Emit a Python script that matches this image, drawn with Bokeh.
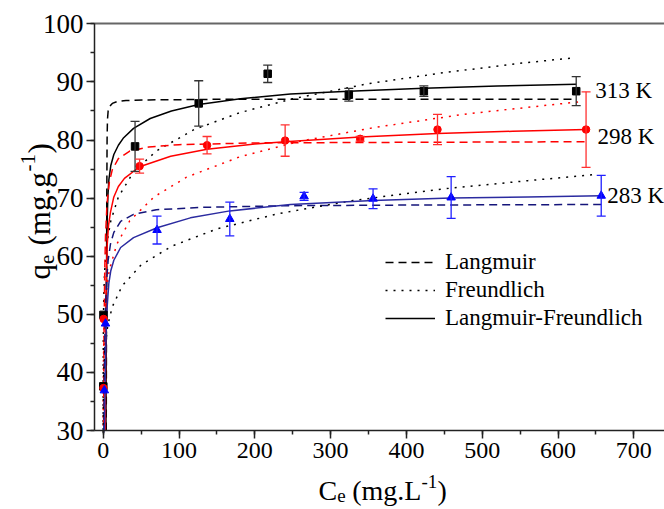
import numpy as np
from bokeh.plotting import figure
from bokeh.models import (Range1d, SingleIntervalTicker, FixedTicker, LinearAxis, Label, Legend,
                          LegendItem, Whisker, TeeHead, ColumnDataSource)
from bokeh.embed import file_html
from bokeh.resources import INLINE

# ---- measured equilibrium data (Ce in mg/L, qe in mg/g, error = +/- half range) ----
ce_313 = [0.1, 0.3, 42, 126, 217, 324, 423, 624]
qe_313 = [37.6, 49.9, 78.9, 86.3, 91.4, 87.8, 88.4, 88.4]
err_313 = [0, 0, 4.3, 3.9, 1.5, 1.1, 0.9, 2.5]

ce_298 = [0.3, 0.6, 48, 137, 240, 339, 441, 637]
qe_298 = [37.3, 49.2, 75.5, 79.1, 79.9, 80.2, 81.8, 81.8]
err_298 = [0, 0, 1.2, 1.5, 2.7, 0.4, 2.6, 6.5]

ce_283 = [1.5, 3.0, 71, 167, 265, 356, 459, 657]
qe_283 = [36.9, 48.4, 64.5, 66.4, 70.3, 69.9, 70.1, 70.4]
err_283 = [0, 0, 2.4, 2.9, 0.7, 1.7, 3.6, 3.5]

# ---- fitted isotherm curves, sampled ----
# 313 K
lang_313_c = [4.0, 4.3, 4.7, 5.1, 5.6, 6.5, 8.5, 12, 18, 30, 60, 150, 624]
lang_313_q = [30.0, 50.0, 70.0, 80.0, 83.5, 85.0, 85.8, 86.3, 86.6, 86.8, 86.9, 87.0, 87.0]
freu_313_c = [0.001, 0.005, 0.02, 0.1, 0.5, 1, 2, 5, 10, 20, 40, 70, 120, 180, 250, 350, 450, 550, 617]
freu_313_q = [30.1, 34.5, 38.8, 44.6, 51.2, 54.3, 57.6, 62.3, 66.1, 70.2, 74.5, 78.1, 81.8, 84.7, 87.1, 89.7, 91.6, 93.2, 94.1]
lf_313_c = [3.6, 4.0, 4.5, 5.2, 6.2, 7.5, 10, 14, 20, 27, 40, 62, 90, 126, 181, 247, 324, 423, 520, 624]
lf_313_q = [30.0, 45.0, 58.0, 66.0, 70.5, 73.2, 75.6, 77.5, 79.1, 80.4, 82.0, 83.7, 85.0, 86.1, 87.1, 87.9, 88.4, 88.9, 89.3, 89.6]

# 298 K
lang_298_c = [0.5, 0.8, 1.2, 2, 3, 5, 8, 12, 20, 35, 60, 100, 200, 400, 637]
lang_298_q = [31.2, 40.4, 48.3, 57.4, 63.4, 69.0, 72.7, 74.9, 76.8, 78.1, 78.8, 79.2, 79.5, 79.6, 79.7]
freu_298_c = [0.01, 0.05, 0.2, 1, 3, 8, 18, 35, 67, 110, 180, 260, 360, 480, 630]
freu_298_q = [30.8, 35.8, 40.8, 47.4, 52.5, 57.6, 62.1, 66.1, 70.2, 73.6, 77.1, 79.8, 82.2, 84.5, 86.6]
lf_298_c = [2.8, 3.2, 3.8, 4.5, 5.3, 7, 9.6, 14, 20, 28, 48, 89, 137, 200, 240, 339, 441, 540, 637]
lf_298_q = [30.0, 45.0, 53.0, 58.5, 62.0, 65.3, 67.6, 70.2, 72.0, 73.4, 75.4, 77.2, 78.4, 79.3, 79.7, 80.5, 81.1, 81.5, 81.8]

# 283 K
lang_283_c = [0.8, 1.0, 1.5, 2.2, 3.2, 4.5, 6.5, 9.6, 14, 23, 40, 70, 130, 250, 400, 657]
lang_283_q = [29.6, 33.4, 40.4, 46.5, 51.8, 55.8, 59.3, 62.1, 64.1, 66.0, 67.2, 68.0, 68.4, 68.7, 68.8, 68.9]
freu_283_c = [0.03, 0.1, 0.4, 1, 2.5, 6, 12, 25, 50, 90, 150, 230, 330, 450, 560, 645]
freu_283_q = [29.6, 33.0, 37.5, 40.8, 44.4, 48.1, 51.3, 54.9, 58.5, 61.7, 64.7, 67.3, 69.6, 71.6, 73.0, 74.0]
lf_283_c = [1.7, 2.5, 3.2, 4, 5.3, 7.4, 10, 14, 23, 40, 71, 115, 167, 247, 356, 459, 560, 657]
lf_283_q = [30.0, 38.0, 43.5, 47.2, 51.5, 55.3, 57.5, 59.3, 61.5, 63.2, 64.9, 66.6, 67.8, 68.9, 69.6, 70.0, 70.2, 70.4]

temp_labels = ["313 K", "298 K", "283 K"]
legend_labels = ["Langmuir", "Freundlich", "Langmuir-Freundlich"]

FONT = "Liberation Serif"
DASH = "8 5"
DOT = "2 6"

# axis limits of the plotted box
X0, X1 = -11.5, 740.5
Y0, Y1 = 30, 100

# The frame spans the whole canvas; the axes sit at fixed positions inside it
# so that the axis titles (built from several runs of text) are not clipped.
W, H = 664, 509
PX_X = 0.758          # pixels per mg/L
PX_Y = 5.81           # pixels per mg/g
LEFT, TOP = 94, 23.3  # canvas position of the box's left and top edges
p = figure(width=W, height=H, output_backend="svg", toolbar_location=None,
           x_range=Range1d(X0 - LEFT / PX_X, X0 + (W - LEFT) / PX_X),
           y_range=Range1d(Y1 - (H - TOP) / PX_Y, Y1 + TOP / PX_Y),
           min_border=0, x_axis_type=None, y_axis_type=None)
p.outline_line_color = None
p.xgrid.visible = False
p.ygrid.visible = False
p.background_fill_color = "white"
p.border_fill_color = "white"


def style_axis(ax, size):
    ax.axis_line_color = "#222222"
    ax.axis_line_width = 1.5
    ax.major_tick_line_color = "#222222"
    ax.minor_tick_line_color = "#222222"
    ax.major_tick_line_width = 1.5
    ax.minor_tick_line_width = 1.5
    ax.major_tick_in = 0
    ax.major_tick_out = 8
    ax.minor_tick_in = 0
    ax.minor_tick_out = 4
    ax.major_label_text_font = FONT
    ax.major_label_text_font_size = size
    ax.major_label_text_color = "black"
    ax.major_label_standoff = 4


xaxis = LinearAxis(ticker=SingleIntervalTicker(interval=100, num_minor_ticks=2),
                   fixed_location=Y0, bounds=(X0, X1))
style_axis(xaxis, "24px")
p.add_layout(xaxis, "below")
yaxis = LinearAxis(ticker=SingleIntervalTicker(interval=10, num_minor_ticks=2),
                   fixed_location=X0, bounds=(Y0, Y1))
style_axis(yaxis, "27px")
yaxis.major_label_standoff = 3
p.add_layout(yaxis, "left")

# plain top border line (no ticks)
top = LinearAxis(ticker=FixedTicker(ticks=[], minor_ticks=[]),
                 fixed_location=Y1, bounds=(X0, X1))
top.axis_line_color = "#666666"
top.axis_line_width = 2
top.major_tick_line_color = None
top.minor_tick_line_color = None
p.add_layout(top, "above")

# ---- model curves ----
NAVY_D = "#15157a"
NAVY_S = "#2b2ba0"
r_l313 = p.line(lang_313_c, lang_313_q, line_color="black", line_width=1.5, line_dash=DASH)
r_f313 = p.line(freu_313_c, freu_313_q, line_color="black", line_width=1.5, line_dash=DOT)
r_s313 = p.line(lf_313_c, lf_313_q, line_color="black", line_width=1.5)

p.line(lang_298_c, lang_298_q, line_color="#ff0000", line_width=1.5, line_dash=DASH)
p.line(freu_298_c, freu_298_q, line_color="#ff0000", line_width=1.5, line_dash=DOT)
p.line(lf_298_c, lf_298_q, line_color="#ff0000", line_width=1.5)

p.line(lang_283_c, lang_283_q, line_color=NAVY_D, line_width=1.5, line_dash=DASH)
p.line(freu_283_c, freu_283_q, line_color="black", line_width=1.5, line_dash=DOT)
p.line(lf_283_c, lf_283_q, line_color=NAVY_S, line_width=1.5)


# ---- error bars and measured points ----
def add_errors(ce, qe, err, color):
    keep = [i for i, e in enumerate(err) if e > 0]
    src = ColumnDataSource(dict(
        x=[ce[i] for i in keep],
        upper=[qe[i] + err[i] for i in keep],
        lower=[qe[i] - err[i] for i in keep]))
    w = Whisker(base="x", upper="upper", lower="lower", source=src,
                line_color=color, line_width=1.3, level="glyph",
                upper_head=TeeHead(size=9, line_color=color, line_width=1.3),
                lower_head=TeeHead(size=9, line_color=color, line_width=1.3))
    p.add_layout(w)


add_errors(ce_313, qe_313, err_313, "#333333")
add_errors(ce_298, qe_298, err_298, "#ff3030")
add_errors(ce_283, qe_283, err_283, "#2020ff")

p.scatter(ce_313, qe_313, marker="square", size=7.5, color="black")
p.scatter(ce_298, qe_298, marker="circle", size=7.5, color="#ff0000")
p.scatter(ce_283, qe_283, marker="triangle", size=8.5, color="#0000ff")

# ---- temperature tags ----
for txt, xx, yy in zip(temp_labels, [649, 652, 665], [88.5, 80.6, 70.4]):
    p.add_layout(Label(x=xx, y=yy, text=txt, text_font=FONT, text_font_size="23px",
                       text_baseline="middle", text_color="black"))

# ---- legend ----
legend = Legend(items=[LegendItem(label=legend_labels[0], renderers=[r_l313]),
                       LegendItem(label=legend_labels[1], renderers=[r_f313]),
                       LegendItem(label=legend_labels[2], renderers=[r_s313])],
                location=(385, H - 332), orientation="vertical",
                glyph_width=50, glyph_height=28, label_height=28, spacing=0,
                padding=0, margin=0, label_standoff=10,
                label_text_font=FONT, label_text_font_size="23px",
                label_text_color="black",
                border_line_color=None, background_fill_alpha=0)
p.add_layout(legend, "center")


# ---- axis titles built from runs of text (subscript / superscript) ----
def title_runs(runs, cx, cy, vertical):
    # runs: (text, size_px, baseline shift_px, advance_px); cx, cy in canvas pixels
    pos = 0.0
    for text, size, shift, adv in runs:
        if vertical:
            lab = Label(x=cx + shift, y=H - cy + pos, x_units="screen", y_units="screen",
                        text=text, text_font=FONT, text_font_size=f"{size}px",
                        text_color="black",
                        angle=np.pi / 2, text_baseline="alphabetic", text_align="left")
        else:
            lab = Label(x=cx + pos, y=H - cy + shift, x_units="screen", y_units="screen",
                        text=text, text_font=FONT, text_font_size=f"{size}px",
                        text_color="black",
                        text_baseline="alphabetic", text_align="left")
        p.add_layout(lab)
        pos += adv


# x title: C_e (mg.L^-1), centred under the box
title_runs([("C", 28, 0, 18.7), ("e", 19, -5, 15.0), ("(mg.L", 28, 0, 69.2),
            ("-1", 19, 9, 16.0), (")", 28, 0, 9.3)],
           318, 490, vertical=False)
# y title: q_e (mg.g^-1), reading upwards
title_runs([("q", 31, 0, 15.5), ("e", 21, 7, 18.5), ("(mg.g", 31, 0, 74.0),
            ("-1", 21, -12, 18.0), (")", 31, 0, 10.3)],
           39, 279, vertical=True)

open("out.html", "w").write(file_html(p, INLINE))
